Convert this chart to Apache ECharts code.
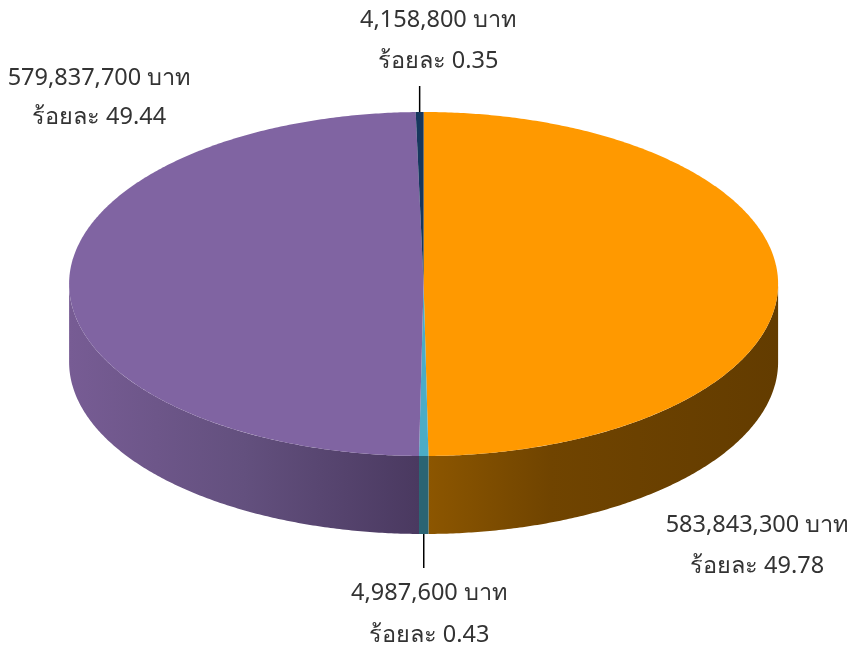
<!DOCTYPE html>
<html><head><meta charset="utf-8">
<style>html,body{margin:0;padding:0;background:#fff}#c{width:855px;height:649px}</style>
<script src="https://cdn.jsdelivr.net/npm/echarts@6/dist/echarts.min.js"></script>
</head><body><div id="c"></div>
<script>
// clockwise from 12 o'clock
var amounts = [583843300, 4987600, 579837700, 4158800];
var percents = ['49.78', '0.43', '49.44', '0.35'];
var topColors = ['#FF9900', '#4BACC6', '#8064A2', '#17375E'];
var sideStops = [
  [[0, '#8C5600'], [0.35, '#704400'], [1, '#633C00']],
  [[0, '#2B6473'], [1, '#2B6473']],
  [[0, '#775C94'], [0.5, '#63507E'], [1, '#4A3960']],
  [[0, '#122B4A'], [1, '#122B4A']]
];
var labelCenters = [[757, 525, 566], [429, 593, 635], [99, 78, 117], [438, 20, 61]];
var leaderLen = [0, 34, 0, 26];

var CX = 423.6, CY = 284, RX = 354.5, RY = 172, DEPTH = 78;
var total = amounts.reduce(function (a, b) { return a + b; }, 0);
var angles = [], run = 0;
amounts.forEach(function (v) { angles.push([run, run + v / total * 360]); run += v / total * 360; });

function pt(deg, dy) {
  var r = deg * Math.PI / 180;
  return [CX + RX * Math.sin(r), CY - RY * Math.cos(r) + (dy || 0)];
}
function arc(a, b, dy) {
  var out = [], n = Math.max(2, Math.ceil(Math.abs(b - a) * 2));
  for (var i = 0; i <= n; i++) out.push(pt(a + (b - a) * i / n, dy));
  return out;
}
function renderItem(params, api) {
  var i = params.dataIndex, a = angles[i][0], b = angles[i][1], kids = [];
  var lo = Math.max(a, 90), hi = Math.min(b, 270);
  if (hi > lo) {
    var side = arc(lo, hi, 0).concat(arc(hi, lo, DEPTH));
    kids.push({
      type: 'polygon', shape: { points: side },
      style: { fill: new echarts.graphic.LinearGradient(0, 0, 1, 0,
        sideStops[i].map(function (s) { return { offset: s[0], color: s[1] }; })) }
    });
  }
  kids.push({
    type: 'polygon', shape: { points: [[CX, CY]].concat(arc(a, b, 0)) },
    style: { fill: topColors[i] }
  });
  if (leaderLen[i]) {
    var mid = (a + b) / 2, front = mid > 90 && mid < 270;
    var p = pt(mid, front ? DEPTH : 0);
    kids.push({
      type: 'line',
      shape: { x1: p[0], y1: p[1], x2: p[0], y2: p[1] + (front ? 1 : -1) * leaderLen[i] },
      style: { stroke: '#000', lineWidth: 1.5 }
    });
  }
  var lc = labelCenters[i];
  var font = '400 23.5px "Noto Sans", "Open Sans", sans-serif';
  kids.push({ type: 'text', style: { text: amounts[i].toLocaleString('en-US') + ' บาท', x: lc[0], y: lc[1], align: 'center', verticalAlign: 'middle', font: font, fill: '#333' } });
  kids.push({ type: 'text', style: { text: 'ร้อยละ ' + percents[i], x: lc[0], y: lc[2], align: 'center', verticalAlign: 'middle', font: font, fill: '#333' } });
  return { type: 'group', children: kids };
}
var chart = echarts.init(document.getElementById('c'), null, { renderer: 'canvas' });
chart.setOption({
  animation: false,
  backgroundColor: '#fff',
  series: [{
    type: 'custom', coordinateSystem: 'none', silent: true,
    renderItem: renderItem,
    data: amounts
  }]
});
</script></body></html>
